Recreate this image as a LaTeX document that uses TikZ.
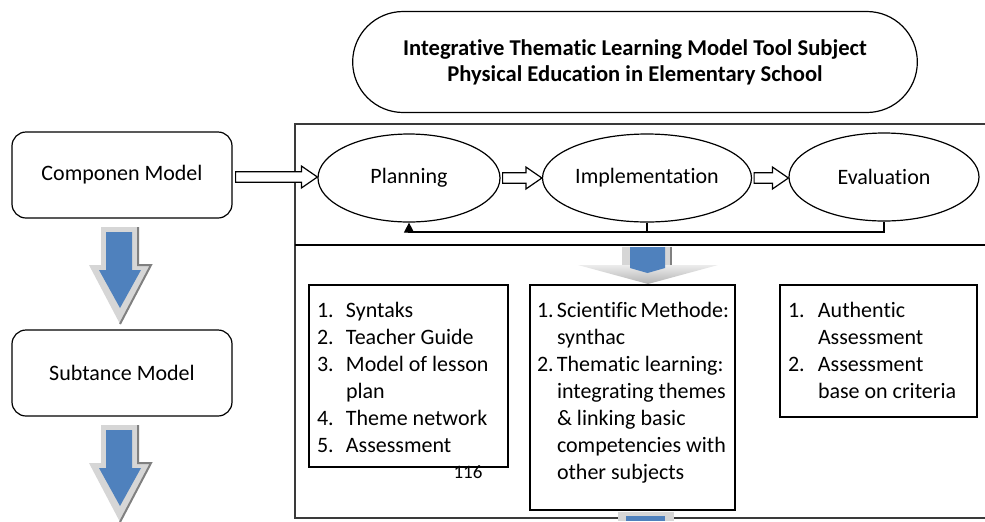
\documentclass[tikz,border=0pt]{standalone}
\usepackage{fontspec}
\setmainfont{Carlito}[Ligatures=NoCommon]
\usetikzlibrary{shapes.geometric,shapes.misc,arrows.meta,calc,positioning}

\definecolor{arrowblue}{HTML}{4F81BD}
\definecolor{shadowgray}{HTML}{D6D6D6}
\definecolor{framegray}{HTML}{3A3A3A}

% numbered line with hanging indent
\newcommand\litem[3]{\par\raggedright\hyphenpenalty=10000\noindent\hangindent=#1\hangafter=1\makebox[#1][l]{#2}#3\par}
% top aligned body of a list box
\newcommand\listbody[3]{\parbox[c][#2][t]{#1}{\vspace*{4.5pt}#3}}

% hollow block arrow between two nodes
\newcommand\hollowarrow[2]{%
  \draw[fill=white,line width=0.6pt] let \p1=(#1), \p2=(#2) in
    (\x1,\y1+2.6pt) -- (\x2-8pt,\y1+2.6pt) -- (\x2-8pt,\y1+5.5pt) -- (\x2,\y1)
    -- (\x2-8pt,\y1-5.5pt) -- (\x2-8pt,\y1-2.6pt) -- (\x1,\y1-2.6pt) -- cycle;}

% shaded blue down arrow, top centre given in px
\newcommand\shadedown[2]{%
  \begin{scope}[shift={(#1,#2)}]
    \fill[shadowgray] (-19,-5) -- (18,-5) -- (18,33) -- (31,33) -- (0,92) -- (-31,33) -- (-19,33) -- cycle;
    \draw[gray,line width=1pt] (18,-5) -- (18,33) -- (31,33) -- (0,92);
    \fill[arrowblue] (-14,0) -- (12,0) -- (12,38) -- (21,38) -- (0,76) -- (-21,38) -- (-14,38) -- cycle;
  \end{scope}}

\begin{document}
\begin{tikzpicture}[x=0.5pt,y=-0.5pt,
  font=\fontsize{11}{13.5}\selectfont,
  model/.style={draw,rounded corners=7pt,minimum width=110pt,minimum height=43pt,line width=0.6pt},
  phase/.style={draw,ellipse,inner sep=0pt,line width=0.6pt,minimum height=44pt},
  listbox/.style={draw,line width=0.6pt,inner xsep=4pt,inner ysep=4pt},
  framel/.style={framegray,line width=0.9pt}]

\useasboundingbox (0,0) rectangle (985,521);

% title
\node[draw,rounded rectangle,line width=0.6pt,minimum width=289pt,minimum height=50.5pt,
  align=center,font=\fontsize{11.3}{13}\selectfont\bfseries] (title) at (635,62)
  {Integrative Thematic Learning Model Tool Subject\\Physical Education in Elementary School};

% left column
\node[model] (comp) at (122,175) {Componen Model};
\node[model] (subst) at (122,373) {Subtance Model};
\shadedown{120}{232}
\shadedown{120}{430}

% panels
\draw[framel] (985,124) -- (295,124) -- (295,518) -- (985,518);
\draw[line width=1.2pt] (295,245) -- (985,245);

% phases
\node[phase,minimum width=91pt] (plan) at (409,178) {Planning};
\node[phase,minimum width=104.5pt] (impl) at (647,178) {Implementation};
\node[phase,minimum width=95pt] (eval) at (884,177) {Evaluation};

\hollowarrow{$(comp.east)+(3,2)$}{plan.west}
\hollowarrow{$(plan.east)+(2,0)$}{impl.west}
\hollowarrow{$(impl.east)+(2,0)$}{eval.west}

% feedback loop
\coordinate (fb) at (0,232);
\draw[line width=0.6pt,-{Triangle[length=5pt,width=5pt]}] (eval.south) -- (eval.south |- fb) -| (plan.south);
\draw[line width=0.6pt] (impl.south) -- (impl.south |- fb);

% arrow into the lower panel
\fill[shadowgray] (622,247) rectangle (672,266);
\shade[top color=gray!15,bottom color=gray!60] (578,265) -- (718,265) -- (648,284) -- cycle;
\draw[gray,line width=1pt] (671,247) -- (671,265);
\fill[arrowblue] (630,247) -- (665,247) -- (665,268) -- (647.5,273) -- (630,268) -- cycle;

% lists
\node[listbox] (tools) at (408.5,376)
  {\listbody{91.5pt}{83pt}{%
   \litem{14.5pt}{1.}{Syntaks}
   \litem{14.5pt}{2.}{Teacher~Guide}
   \litem{14.5pt}{3.}{Model~of~lesson\newline plan}
   \litem{14.5pt}{4.}{Theme~network}
   \litem{14.5pt}{5.}{Assessment}}};
\node[listbox,inner xsep=3.5pt] (method) at (632.5,397.5)
  {\listbody{95.5pt}{104.5pt}{%
   \litem{10pt}{1.}{Scientific~Methode:\newline synthac}
   \litem{10pt}{2.}{Thematic~learning:\newline integrating~themes\newline \&~linking~basic\newline competencies~with\newline other~subjects}}};
\node[listbox] (assess) at (878.5,351)
  {\listbody{90.5pt}{58pt}{%
   \litem{15pt}{1.}{Authentic\newline Assessment}
   \litem{15pt}{2.}{Assessment\newline base~on~criteria}}};

\node[font=\fontsize{9.5}{11}\selectfont] (page) at (468,472) {116};

% stub of the next arrow
\fill[shadowgray] (618,512) rectangle (674,521);
\fill[arrowblue] (626,516) rectangle (665,521);
\end{tikzpicture}
\end{document}
